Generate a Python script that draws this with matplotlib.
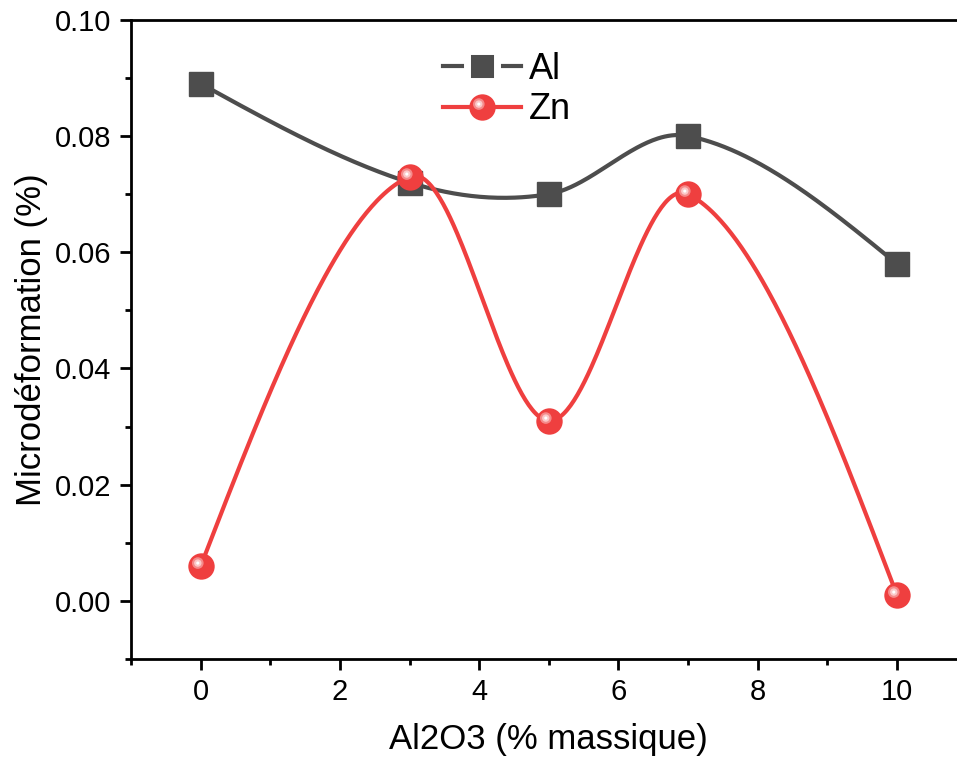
import numpy as np
import matplotlib
matplotlib.use("Agg")
import matplotlib.pyplot as plt
from matplotlib.path import Path
from matplotlib.lines import Line2D
from matplotlib.ticker import MultipleLocator, FormatStrFormatter

plt.rcParams['font.family'] = ['Liberation Sans', 'DejaVu Sans']

# Al2O3 content (% massique) and measured microstrain (%)
x_al2o3 = [0, 3, 5, 7, 10]
micro_al = [0.089, 0.072, 0.070, 0.080, 0.058]
micro_zn = [0.006, 0.073, 0.031, 0.070, 0.001]

AL_COLOR = '#4d4d4d'
ZN_COLOR = '#ef3f3f'


def smooth_curve(x, y, n=400):
    # piecewise cubic Hermite with centred-difference tangents (Catmull-Rom style)
    x = np.asarray(x, float)
    y = np.asarray(y, float)
    k = len(x)
    d = np.diff(y) / np.diff(x)
    m = np.zeros(k)
    m[1:-1] = (y[2:] - y[:-2]) / (x[2:] - x[:-2])
    m[0] = (3 * d[0] - m[1]) / 2
    m[-1] = (3 * d[-1] - m[-2]) / 2
    xs = np.linspace(x[0], x[-1], n)
    idx = np.clip(np.searchsorted(x, xs) - 1, 0, k - 2)
    h = x[idx + 1] - x[idx]
    t = (xs - x[idx]) / h
    h00 = 2 * t**3 - 3 * t**2 + 1
    h10 = t**3 - 2 * t**2 + t
    h01 = -2 * t**3 + 3 * t**2
    h11 = t**3 - t**2
    ys = h00 * y[idx] + h10 * h * m[idx] + h01 * y[idx + 1] + h11 * h * m[idx + 1]
    return xs, ys


def offset_circle(cx, cy, r):
    circ = Path.circle((cx, cy), r)
    return circ, np.max(np.abs(circ.vertices))


fig = plt.figure(figsize=(9.57, 7.61), dpi=100)
ax = fig.add_axes([0.137, 0.134, 0.873, 0.840])

# Al: dark grey curve with square markers
xs, ys = smooth_curve(x_al2o3, micro_al)
ax.plot(xs, ys, color=AL_COLOR, lw=3, zorder=2)
ax.plot(x_al2o3, micro_al, ls='none', marker='s', ms=17, color=AL_COLOR,
        mec=AL_COLOR, zorder=3)

# Zn: red curve with shaded ball markers
xs, ys = smooth_curve(x_al2o3, micro_zn)
ax.plot(xs, ys, color=ZN_COLOR, lw=3, zorder=4)
D = 19  # ball diameter in points
ball, = ax.plot(x_al2o3, micro_zn, ls='none', marker='o', ms=D,
                color=ZN_COLOR, mec=ZN_COLOR, mew=0, zorder=5)
hl_handles = []
for r, col in [(0.22, '#f58a8a'), (0.14, '#fbc9c9'), (0.06, '#ffffff')]:
    p, mx = offset_circle(-0.14, 0.13, r)
    h, = ax.plot(x_al2o3, micro_zn, ls='none', marker=p, ms=D * 2 * mx,
                 color=col, mec='none', zorder=6)
    hl_handles.append(h)

ax.set_xlim(-1, 11)
ax.set_ylim(-0.01, 0.10)
ax.xaxis.set_major_locator(MultipleLocator(2))
ax.xaxis.set_minor_locator(MultipleLocator(1))
ax.yaxis.set_major_locator(MultipleLocator(0.02))
ax.yaxis.set_minor_locator(MultipleLocator(0.01))
ax.yaxis.set_major_formatter(FormatStrFormatter('%.2f'))
ax.tick_params(which='both', direction='out', width=2, labelsize=21,
               top=False, right=False)
ax.tick_params(which='major', length=8, pad=6)
ax.tick_params(which='minor', length=4)
for s in ax.spines.values():
    s.set_linewidth(2)

ax.set_xlabel('Al2O3 (% massique)', fontsize=25, labelpad=12)
ax.set_ylabel('Microdéformation (%)', fontsize=25, labelpad=5)

# legend: the square sits in a white gap on its line
al_handle = Line2D([], [], color=AL_COLOR, lw=3, marker='s', ms=22,
                   mfc=AL_COLOR, mec='white', mew=5)
zn_line = Line2D([], [], color=ZN_COLOR, lw=3)
ax.legend([al_handle, (zn_line, ball, *hl_handles)], ['Al', 'Zn'],
          loc='upper left', bbox_to_anchor=(0.444, 0.956),
          bbox_transform=fig.transFigure, frameon=False, fontsize=26,
          handlelength=2.17, handletextpad=0.2, labelspacing=0.16,
          borderpad=0)

fig.savefig('out.png', dpi=100)
